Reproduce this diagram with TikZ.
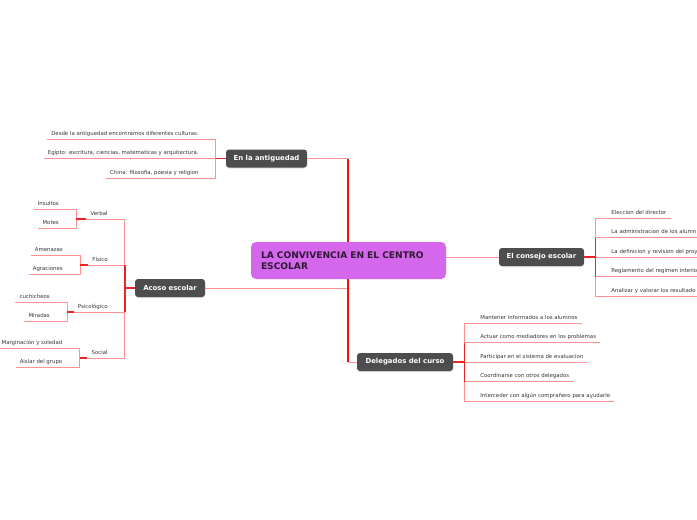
\documentclass[tikz,border=0pt]{standalone}
\usepackage{fontspec}
\setmainfont{DejaVu Sans}
\usetikzlibrary{calc,shadows}
\definecolor{topicgray}{RGB}{77,77,77}
\definecolor{centerfill}{RGB}{213,103,237}
\definecolor{centertext}{RGB}{45,25,50}
\definecolor{linelight}{RGB}{255,145,145}
\definecolor{linedark}{RGB}{238,35,35}
\definecolor{linemain}{RGB}{250,10,10}
\definecolor{leaftext}{RGB}{55,55,55}
\begin{document}
\begin{tikzpicture}[x=1pt,y=-1pt,
  topic/.style={fill=topicgray,text=white,font=\fontsize{6.9}{8}\selectfont\bfseries,rounded corners=3pt,inner sep=0pt,minimum height=18pt,drop shadow={shadow xshift=0pt,shadow yshift=-1pt,opacity=0.25}},
  leaf/.style={font=\fontsize{5.4}{6.5}\selectfont,text=leaftext,inner xsep=4pt,inner ysep=2pt,text height=4pt,text depth=1.5pt},
  edgeleaf/.style={leaf,text width=92pt,align=left},
  thinline/.style={draw=linelight,line width=0.9pt},
  stub/.style={draw=linedark,line width=1.4pt},
  trunk/.style={draw=linemain,line width=1.2pt}]
\clip (0,0) rectangle (697,520);
\fill[white] (0,0) rectangle (697,520);

% central topic
\node[fill=centerfill,text=centertext,rounded corners=5pt,minimum width=195pt,minimum height=37pt,text width=175pt,inner xsep=10pt,align=left,font=\fontsize{9.1}{11}\selectfont\bfseries] (center) at (348.5,260.5) {LA CONVIVENCIA EN EL CENTRO\\ESCOLAR};

% main topics
\node[topic,minimum width=81pt] (antig) at (266.5,158.5) {En la antiguedad};
\node[topic,minimum width=70pt] (acoso) at (170,288) {Acoso escolar};
\node[topic,minimum width=85pt] (consejo) at (541.5,257) {El consejo escolar};
\node[topic,minimum width=96pt] (deleg) at (405,362) {Delegados del curso};

% trunk connectors
\coordinate (tx) at (348,0);
\draw[thinline] (tx |- antig.east) -- (antig.east);
\draw[thinline] (tx |- deleg.west) -- (deleg.west);
\draw[thinline] (tx |- acoso.east) -- (acoso.east);
\draw[thinline] (center.east |- consejo.west) -- (consejo.west);
\draw[trunk] (center.north -| tx) -- (tx |- antig.east);
\draw[trunk] (center.south -| tx) -- (tx |- deleg.west);

% En la antiguedad
\coordinate (ab) at ($(antig.west)+(-10,0)$);
\node[leaf,anchor=south east] (a1) at ($(ab)+(-13,-19.5)$) {Desde la antiguedad encontramos diferentes culturas.};
\node[leaf,anchor=south east] (a2) at ($(ab)+(-13,0)$) {Egipto: escritura, ciencias, matematicas y arquitectura.};
\node[leaf,anchor=south east] (a3) at ($(ab)+(-13,19.5)$) {China: filosofia, poesia y religion};
\draw[thinline] (ab) |- (a1.south west);
\draw[thinline] (ab) |- (a2.south west);
\draw[thinline] (ab) |- (a3.south west);
\draw[stub] (antig.west) -- (ab);

% Acoso escolar
\coordinate (sb) at ($(acoso.west)+(-10,0)$);
\node[leaf,anchor=south east] (verbal) at ($(sb)+(-13,-69)$) {Verbal};
\node[leaf,anchor=south east] (fisico) at ($(sb)+(-13,-23)$) {Físico};
\node[leaf,anchor=south east] (psico) at ($(sb)+(-13,24)$) {Psicológico};
\node[leaf,anchor=south east] (social) at ($(sb)+(-13,70)$) {Social};
\draw[thinline] (sb) |- (verbal.south west);
\draw[thinline] (sb) |- (fisico.south west);
\draw[thinline] (sb) |- (psico.south west);
\draw[thinline] (sb) |- (social.south west);
\draw[stub] (sb |- fisico.south) -- (sb |- psico.south);
\draw[stub] (acoso.west) -- (sb);

\coordinate (vb) at (verbal.south west -| 76,0);
\node[leaf,anchor=south east] (v1) at ($(vb)+(-13,-9.5)$) {Insultos};
\node[leaf,anchor=south east] (v2) at ($(vb)+(-13,9.5)$) {Motes};
\draw[thinline] (vb) |- (v1.south west);
\draw[thinline] (vb) |- (v2.south west);
\draw[stub] (verbal.south west) -- (vb);

\coordinate (fb) at (fisico.south west -| 80,0);
\node[leaf,anchor=south east] (f1) at ($(fb)+(-13,-9.5)$) {Amenazas};
\node[leaf,anchor=south east] (f2) at ($(fb)+(-13,9.5)$) {Agraciones};
\draw[thinline] (fb) |- (f1.south west);
\draw[thinline] (fb) |- (f2.south west);
\draw[stub] (fisico.south west) -- (fb);

\coordinate (pb) at (psico.south west -| 67,0);
\node[leaf,anchor=south east] (p1) at ($(pb)+(-13,-9.5)$) {cuchicheos};
\node[leaf,anchor=south east] (p2) at ($(pb)+(-13,9.5)$) {Miradas};
\draw[thinline] (pb) |- (p1.south west);
\draw[thinline] (pb) |- (p2.south west);
\draw[stub] (psico.south west) -- (pb);

\coordinate (ob) at (social.south west -| 79.5,0);
\node[leaf,anchor=south east] (s1) at ($(ob)+(-13,-9.5)$) {Marginación y soledad};
\node[leaf,anchor=south east] (s2) at ($(ob)+(-13,9.5)$) {Aislar del grupo};
\draw[thinline] (ob) |- (s1.south west);
\draw[thinline] (ob) |- (s2.south west);
\draw[stub] (social.south west) -- (ob);

% El consejo escolar
\coordinate (cb) at ($(consejo.east)+(11,0)$);
\node[leaf,anchor=south west] (c1) at ($(cb)+(12,-39)$) {Eleccion del director};
\node[edgeleaf,anchor=south west] (c2) at ($(cb)+(12,-19.5)$) {La administracion de los alumn};
\node[edgeleaf,anchor=south west] (c3) at ($(cb)+(12,0)$) {La definicion y revision del proy};
\node[edgeleaf,anchor=south west] (c4) at ($(cb)+(12,19.5)$) {Reglamento del regimen interio};
\node[edgeleaf,anchor=south west] (c5) at ($(cb)+(12,39)$) {Analizar y valorar los resultado};
\foreach \n in {c1,c2,c3,c4,c5} {\draw[thinline] (cb) |- (\n.south east);}
\draw[stub] (cb |- c2.south) -- (cb |- c4.south);
\draw[stub] (consejo.east) -- (cb);

% Delegados del curso
\coordinate (db) at ($(deleg.east)+(11,0)$);
\node[leaf,anchor=south west] (d1) at ($(db)+(12,-39)$) {Mantener informados a los alumnos};
\node[leaf,anchor=south west] (d2) at ($(db)+(12,-19.5)$) {Actuar como mediadores en los problemas};
\node[leaf,anchor=south west] (d3) at ($(db)+(12,0)$) {Participar en el sistema de evaluacion};
\node[leaf,anchor=south west] (d4) at ($(db)+(12,19.5)$) {Coordinarse con otros delegados};
\node[leaf,anchor=south west] (d5) at ($(db)+(12,39)$) {Interceder con algún comprañero para ayudarle};
\foreach \n in {d1,d2,d3,d4,d5} {\draw[thinline] (db) |- (\n.south east);}
\draw[stub] (db |- d2.south) -- (db |- d4.south);
\draw[stub] (deleg.east) -- (db);
\end{tikzpicture}
\end{document}
